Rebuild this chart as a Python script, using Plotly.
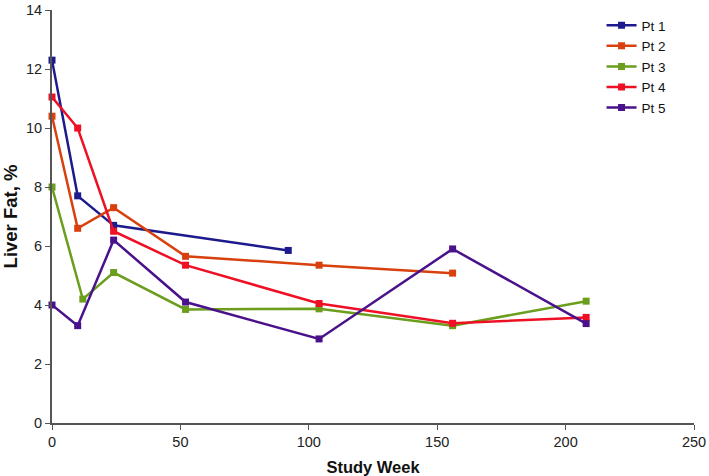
import plotly.graph_objects as go

pt1_weeks = [0, 10, 24, 92]
pt1_fat = [12.3, 7.7, 6.7, 5.85]
pt2_weeks = [0, 10, 24, 52, 104, 156]
pt2_fat = [10.4, 6.6, 7.3, 5.65, 5.35, 5.08]
pt3_weeks = [0, 12, 24, 52, 104, 156, 208]
pt3_fat = [8.0, 4.2, 5.1, 3.85, 3.87, 3.3, 4.13]
pt4_weeks = [0, 10, 24, 52, 104, 156, 208]
pt4_fat = [11.05, 10.0, 6.5, 5.35, 4.05, 3.38, 3.58]
pt5_weeks = [0, 10, 24, 52, 104, 156, 208]
pt5_fat = [4.0, 3.3, 6.2, 4.1, 2.85, 5.9, 3.37]

names = ["Pt 1", "Pt 2", "Pt 3", "Pt 4", "Pt 5"]
colors = ["#1c1a8c", "#d8400e", "#6a9e1c", "#ee1024", "#4a128a"]

series = [(pt1_weeks, pt1_fat), (pt2_weeks, pt2_fat), (pt3_weeks, pt3_fat),
          (pt4_weeks, pt4_fat), (pt5_weeks, pt5_fat)]

fig = go.Figure()
for (xs, ys), name, c in zip(series, names, colors):
    fig.add_trace(go.Scatter(
        x=xs, y=ys, name=name, mode="lines+markers",
        line=dict(color=c, width=2.5),
        marker=dict(symbol="square", size=7, color=c),
        cliponaxis=False,
    ))

fig.update_layout(
    width=709, height=476,
    margin=dict(l=52, r=15, t=10, b=53, autoexpand=False),
    plot_bgcolor="white", paper_bgcolor="white",
    font=dict(family="Liberation Sans, Arial, sans-serif", size=14.5, color="#222"),
    showlegend=True,
    legend=dict(x=0.856, y=1.0, xanchor="left", yanchor="top",
                font=dict(size=13.5, color="#111"), itemwidth=30,
                tracegroupgap=0, bgcolor="rgba(0,0,0,0)"),
    xaxis=dict(range=[0, 250], tickvals=[0, 50, 100, 150, 200, 250],
               showgrid=False, zeroline=False, showline=True, automargin=False,
               linecolor="#555", linewidth=1.5, ticks="outside", ticklen=5,
               tickcolor="#555",
               title=dict(text="<b>Study Week</b>", font=dict(size=16.5, color="#111"),
                          standoff=12)),
    yaxis=dict(range=[0, 14], tickvals=[0, 2, 4, 6, 8, 10, 12, 14],
               showgrid=False, zeroline=False, showline=True, automargin=False,
               linecolor="#555", linewidth=2, ticks="outside", ticklen=5,
               tickcolor="#555",
               title=dict(text="<b>Liver Fat, %</b>", font=dict(size=18.5, color="#111"),
                          standoff=10)),
)

fig.write_html("out.html", config={"displayModeBar": False},
               post_script="document.body.style.margin='0';document.body.style.overflow='hidden';")
